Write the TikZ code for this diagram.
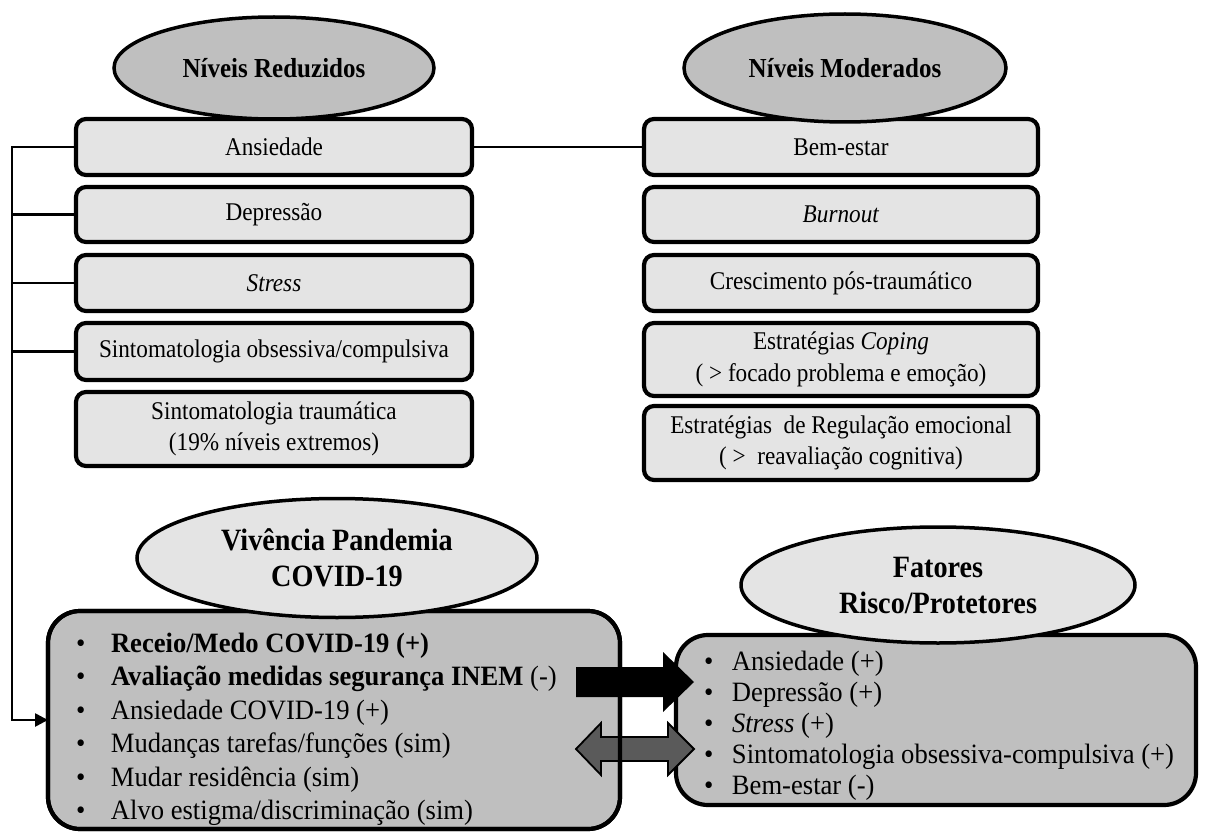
\documentclass[tikz,border=0pt]{standalone}
\usepackage{fontspec}
\setmainfont{Liberation Serif}
\newfontfamily\narrowserif[FakeStretch=0.91]{Liberation Serif}
\newfontfamily\listserif[FakeStretch=0.95]{Liberation Serif}
\usetikzlibrary{shapes.geometric,arrows.meta}
\definecolor{lightfill}{HTML}{E4E4E4}
\definecolor{midfill}{HTML}{BFBFBF}
\definecolor{darkfill}{HTML}{5A5A5A}
\begin{document}
\begin{tikzpicture}[x=1pt,y=-1pt,
  every node/.style={outer sep=0pt},
  levelbox/.style={draw, line width=4.2pt, rounded corners=10pt, fill=lightfill,
    align=center, inner sep=0pt, font=\narrowserif\fontsize{25.5}{31.5}\selectfont},
  lbox/.style={levelbox, minimum width=396pt},
  rbox/.style={levelbox, minimum width=394pt},
  headoval/.style={draw, ellipse, line width=3.5pt, inner sep=0pt, align=center,
    font=\narrowserif\fontsize{27.5}{30}\selectfont\bfseries},
  topoval/.style={headoval, fill=midfill},
  lowoval/.style={headoval, fill=lightfill, font=\narrowserif\fontsize{31}{36}\selectfont\bfseries},
  listbox/.style={draw, line width=4.2pt, rounded corners=32pt, fill=midfill, inner sep=0pt},
  listitem/.style={anchor=base west, inner sep=0pt, font=\listserif\fontsize{28}{30}\selectfont},
  link/.style={line width=2.6pt},
]
\useasboundingbox (0,0) rectangle (1205,832);

% reduced levels column
\node[lbox, minimum height=56pt] (ra) at (274,147)   {Ansiedade};
\node[lbox, minimum height=55pt] (rd) at (274,214.5) {Depressão};
\node[lbox, minimum height=56pt] (rs) at (274,283)   {\textit{Stress}};
\node[lbox, minimum height=57pt] (ro) at (274,351.5) {Sintomatologia obsessiva/compulsiva};
\node[lbox, minimum height=74pt] (rt) at (274,429)   {Sintomatologia traumática\\(19\% níveis extremos)};

% moderate levels column
\node[rbox, minimum height=56pt] (mb) at (841,147)   {Bem-estar};
\node[rbox, minimum height=55pt] (mu) at (841,214.5) {\textit{Burnout}};
\node[rbox, minimum height=56pt] (mc) at (841,283)   {Crescimento pós-traumático};
\node[rbox, minimum height=73pt] (mo) at (841,359.5) {Estratégias \textit{Coping}\\( > focado problema e emoção)};
\node[rbox, minimum height=74pt] (mr) at (841,443)   {Estratégias~ de Regulação emocional\\( >~ reavaliação cognitiva)};

% column headers
\node[topoval, minimum width=320pt, minimum height=102pt] (nr) at (274,68) {Níveis Reduzidos};
\node[topoval, minimum width=322pt, minimum height=108pt] (nm) at (845,68) {Níveis Moderados};

% connectors
\coordinate (busx) at (12,0);
\draw[link] (ra.east) -- (mb.west);
\draw[link] (rd.west) -- (rd.west -| busx);
\draw[link] (rs.west) -- (rs.west -| busx);
\draw[link] (ro.west) -- (ro.west -| busx);

% lower boxes
\node[listbox, minimum width=572pt, minimum height=218pt] (vb) at (334,720) {};
\node[listbox, minimum width=520pt, minimum height=170pt] (fb) at (936,720) {};

\draw[link, -{Triangle[length=13pt,width=13pt]}] (ra.west) -- (ra.west -| busx) |- (vb.west);

% block arrows between the lower boxes
\fill[black] (576,667) -- (663,667) -- (663,652) -- (694,682) -- (663,712) -- (663,697) -- (576,697) -- cycle;
\filldraw[fill=darkfill, draw=black, line width=1.8pt, line join=miter]
  (576,749) -- (601,723) -- (601,737) -- (668,737) -- (668,723) -- (694,749)
  -- (668,775) -- (668,761) -- (601,761) -- (601,775) -- cycle;
\draw[line width=4.2pt, rounded corners=32pt] (vb.north west) rectangle (vb.south east);

% list contents
\foreach \txt [count=\i] in {
  {\textbf{Receio/Medo COVID-19 (+)}},
  {\textbf{Avaliação medidas segurança INEM} (-)},
  {Ansiedade COVID-19 (+)},
  {Mudanças tarefas/funções (sim)},
  {Mudar residência (sim)},
  {Alvo estigma/discriminação (sim)}}
  \node[listitem] (v\i) at (76,{652+33.5*(\i-1)}) {\makebox[35pt][l]{\textbullet}\txt};

\foreach \txt [count=\i] in {
  {Ansiedade (+)},
  {Depressão (+)},
  {\textit{Stress} (+)},
  {Sintomatologia obsessiva-compulsiva (+)},
  {Bem-estar (-)}}
  \node[listitem] (f\i) at (704,{670+31*(\i-1)}) {\makebox[28pt][l]{\textbullet}\txt};

% lower headers
\node[lowoval, minimum width=400pt, minimum height=119pt] (vp) at (337,558) {Vivência Pandemia\\COVID-19};
\node[lowoval, minimum width=394pt, minimum height=116pt] (fr) at (938,585) {Fatores\\Risco/Protetores};
\end{tikzpicture}
\end{document}
